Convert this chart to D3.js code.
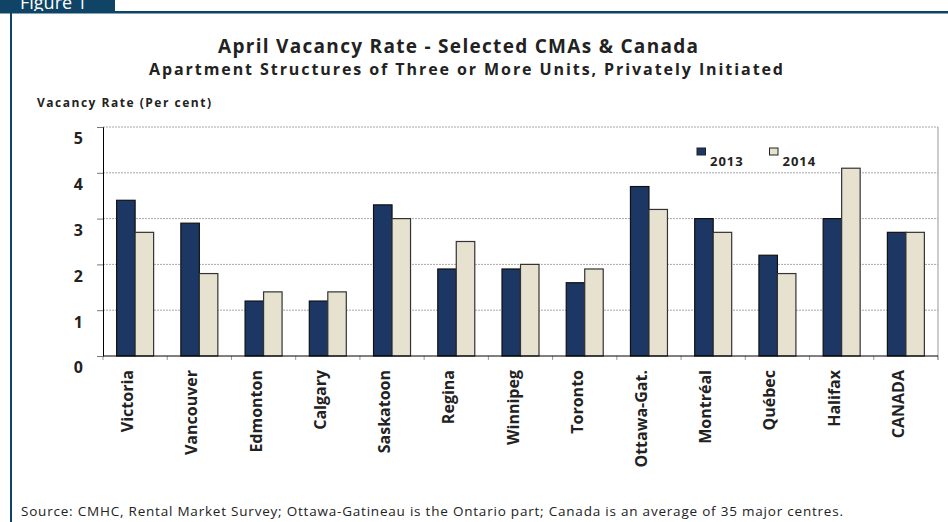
<!DOCTYPE html>
<html>
<head>
<meta charset="utf-8">
<script src="https://cdn.jsdelivr.net/npm/d3@7"></script>
<style>
  body { margin: 0; background: #fff; }
  svg { display: block; }
  text { font-family: "Open Sans", Lato, sans-serif; fill: #222; }
</style>
</head>
<body>
<div id="chart"></div>
<script>
// data
const cities = ["Victoria", "Vancouver", "Edmonton", "Calgary", "Saskatoon", "Regina", "Winnipeg",
                "Toronto", "Ottawa-Gat.", "Montréal", "Québec", "Halifax", "CANADA"];
const years = ["2013", "2014"];
const rate2013 = [3.4, 2.9, 1.2, 1.2, 3.3, 1.9, 1.9, 1.6, 3.7, 3.0, 2.2, 3.0, 2.7];
const rate2014 = [2.7, 1.8, 1.4, 1.4, 3.0, 2.5, 2.0, 1.9, 3.2, 2.7, 1.8, 4.1, 2.7];
const yTicks = [0, 1, 2, 3, 4, 5];
const colors = {"2013": "#1d3764", "2014": "#e7e1cf"};

const width = 948, height = 522;
const margin = {top: 127, right: 10, bottom: 166, left: 103};

let svg = d3.select("#chart").append("svg")
    .attr("width", width)
    .attr("height", height);

// frame + "Figure 1" tab
svg.append("rect").attr("x", 0).attr("y", 0).attr("width", 115).attr("height", 13).attr("fill", "#0f4466");
svg.append("text").attr("x", 20).attr("y", 9).attr("font-size", 18).style("fill", "#fff").text("Figure 1");
svg.append("rect").attr("x", 0).attr("y", 11).attr("width", width).attr("height", 2.5).attr("fill", "#0f4466");
svg.append("rect").attr("x", 10).attr("y", 11).attr("width", 2).attr("height", height - 11).attr("fill", "#0f4466");

// titles
svg.append("text").attr("x", 218).attr("y", 53)
    .attr("font-size", 19).attr("font-weight", "bold")
    .attr("textLength", 480).attr("lengthAdjust", "spacing")
    .text("April Vacancy Rate - Selected CMAs & Canada");
svg.append("text").attr("x", 149).attr("y", 75)
    .attr("font-size", 16).attr("font-weight", "bold")
    .attr("textLength", 634).attr("lengthAdjust", "spacing")
    .text("Apartment Structures of Three or More Units, Privately Initiated");
svg.append("text").attr("x", 37).attr("y", 107)
    .attr("font-size", 12).attr("font-weight", "bold")
    .attr("textLength", 174).attr("lengthAdjust", "spacing")
    .text("Vacancy Rate (Per cent)");

// scales
let x0 = d3.scaleBand()
    .domain(cities)
    .range([margin.left, width - margin.right])
    .paddingInner(0.424)
    .paddingOuter(0.212);

let x1 = d3.scaleBand()
    .domain(years)
    .range([0, x0.bandwidth()]);

let y = d3.scaleLinear()
    .domain([0, 5])
    .range([356, margin.top]);

// gridlines
svg.append("g")
    .selectAll("line")
    .data(yTicks.filter(d => d > 0))
    .join("line")
    .attr("x1", margin.left).attr("x2", width - margin.right)
    .attr("y1", d => y(d)).attr("y2", d => y(d))
    .attr("stroke", "#a8a8a8")
    .attr("stroke-dasharray", "2,1");

// right border of plot
svg.append("line")
    .attr("x1", width - margin.right).attr("x2", width - margin.right)
    .attr("y1", y(5)).attr("y2", y(0) + 4)
    .attr("stroke", "#999");

// bars
let data = cities.map((c, i) => ({city: c, values: [
    {year: "2013", v: rate2013[i]},
    {year: "2014", v: rate2014[i]}
]}));

svg.append("g")
    .selectAll("g")
    .data(data)
    .join("g")
    .attr("transform", d => "translate(" + x0(d.city) + ",0)")
    .selectAll("rect")
    .data(d => d.values)
    .join("rect")
    .attr("x", d => x1(d.year))
    .attr("width", x1.bandwidth())
    .attr("y", d => y(d.v))
    .attr("height", d => y(0) - y(d.v))
    .attr("fill", d => colors[d.year])
    .attr("stroke", d => d.year === "2013" ? "#111" : "#333")
    .attr("stroke-width", 1.2);

// y axis
let yAxis = d3.axisLeft(y).tickValues(yTicks).tickSize(6).tickPadding(14).tickFormat(d3.format("d"));
let gy = svg.append("g")
    .attr("transform", "translate(" + margin.left + ",0)")
    .call(yAxis);
gy.select(".domain").attr("stroke", "#000");
gy.selectAll(".tick line").attr("stroke", "#777");
gy.selectAll(".tick text")
    .attr("font-family", "'Open Sans', sans-serif")
    .attr("font-size", 16).attr("font-weight", "bold")
    .attr("dy", "1.05em")
    .style("fill", "#222");

// x axis line + ticks between groups
let step = x0.step();
let boundaries = d3.range(cities.length + 1).map(i => margin.left + i * step);
svg.append("g")
    .selectAll("line")
    .data(boundaries)
    .join("line")
    .attr("x1", d => d).attr("x2", d => d)
    .attr("y1", y(0)).attr("y2", y(0) + 4)
    .attr("stroke", "#999");
svg.append("line")
    .attr("x1", margin.left).attr("x2", width - margin.right)
    .attr("y1", y(0)).attr("y2", y(0))
    .attr("stroke", "#000");

// category labels
svg.append("g")
    .selectAll("text")
    .data(cities)
    .join("text")
    .attr("transform", d => "translate(" + (x0(d) + x0.bandwidth() / 2 - 2) + "," + (y(0) + 14) + ") rotate(-90)")
    .attr("text-anchor", "end")
    .attr("font-size", 16).attr("font-weight", "bold")
    .text(d => d);

// legend
let legend = svg.append("g")
    .selectAll("g")
    .data(years)
    .join("g")
    .attr("transform", (d, i) => "translate(" + (697 + i * 72.5) + ",148)");
legend.append("rect")
    .attr("width", 8.5).attr("height", 7)
    .attr("fill", d => colors[d])
    .attr("stroke", "#222");
legend.append("text")
    .attr("x", 13).attr("y", 18)
    .attr("font-size", 13).attr("font-weight", "bold")
    .attr("letter-spacing", 1)
    .text(d => d);

// source note
svg.append("text").attr("x", 21).attr("y", 516)
    .attr("font-size", 13.5)
    .attr("textLength", 822).attr("lengthAdjust", "spacing")
    .text("Source: CMHC, Rental Market Survey; Ottawa-Gatineau is the Ontario part; Canada is an average of 35 major centres.");
</script>
</body>
</html>
